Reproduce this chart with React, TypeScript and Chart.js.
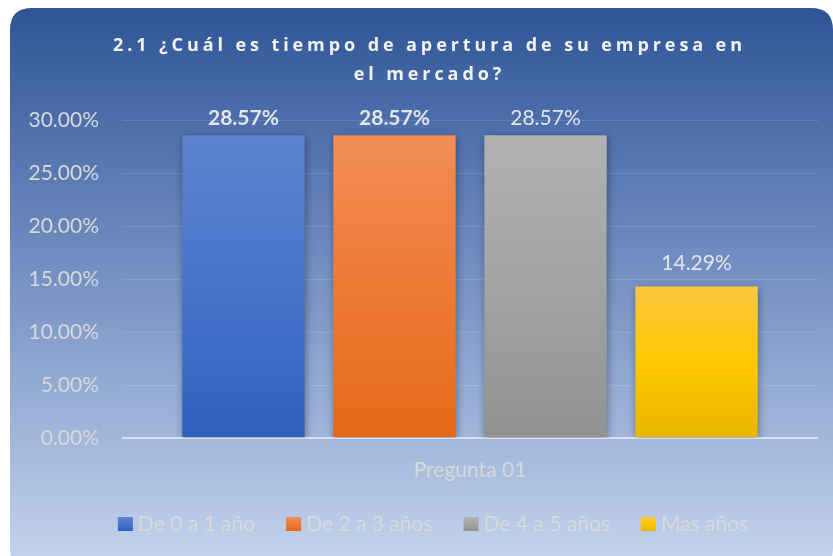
import { useEffect, useRef } from 'react';
import { Chart, registerables } from 'chart.js';

Chart.register(...registerables);

const TITLE_LINES = ['2.1 ¿Cuál es tiempo de apertura de su empresa en', 'el mercado?'];
const CATEGORIES = ['Pregunta 01'];
const SERIES_NAMES = ['De 0 a 1 año', 'De 2 a 3 años', 'De 4 a 5 años', 'Mas años'];
const SERIES_VALUES = [28.57, 28.57, 28.57, 14.29];
const LABEL_BOLD = [true, true, false, false];
const Y_MIN = 0;
const Y_MAX = 30;
const Y_STEP = 5;

const SERIES_GRADIENTS: string[][] = [
  ['#5D83CF', '#4874CA', '#2E61BD'],
  ['#F18D56', '#EE7A35', '#E56918'],
  ['#B1B1B1', '#A3A3A3', '#929292'],
  ['#FFC742', '#FFC800', '#E8B600'],
];

const FONT = 'Lato, "Open Sans", sans-serif';
const TITLE_FONT = '"Open Sans", Lato, sans-serif';
const W = 825;
const H = 548;

const cardPlugin = {
  id: 'card',
  beforeDraw(chart: any) {
    const ctx = chart.ctx;
    ctx.save();
    const x0 = 2, y0 = 0, x1 = W, y1 = H + 14, r = 22;
    ctx.beginPath();
    ctx.moveTo(x0 + r, y0);
    ctx.lineTo(x1 - r, y0);
    ctx.quadraticCurveTo(x1, y0, x1, y0 + r);
    ctx.lineTo(x1, y1 - r);
    ctx.quadraticCurveTo(x1, y1, x1 - r, y1);
    ctx.lineTo(x0 + r, y1);
    ctx.quadraticCurveTo(x0, y1, x0, y1 - r);
    ctx.lineTo(x0, y0 + r);
    ctx.quadraticCurveTo(x0, y0, x0 + r, y0);
    ctx.closePath();
    const g = ctx.createLinearGradient(0, 0, 0, H);
    g.addColorStop(0, '#2F5597');
    g.addColorStop(0.5, '#7792C4');
    g.addColorStop(1, '#C2D2EC');
    ctx.fillStyle = g;
    ctx.fill();
    ctx.restore();
  },
};

const titlePlugin = {
  id: 'spacedTitle',
  afterDraw(chart: any) {
    const ctx = chart.ctx;
    ctx.save();
    ctx.font = `bold 18px ${TITLE_FONT}`;
    ctx.fillStyle = '#F2F2F2';
    ctx.textBaseline = 'alphabetic';
    ctx.textAlign = 'left';
    (ctx as any).letterSpacing = '0px';
    const w0 = ctx.measureText(TITLE_LINES[0]).width;
    const n = [...TITLE_LINES[0]].length;
    const spacing = Math.max(0, (629 - w0) / (n - 1));
    const cx = 427.5 - 8;
    const baselines = [43, 72];
    TITLE_LINES.forEach((line, i) => {
      (ctx as any).letterSpacing = '0px';
      const base = ctx.measureText(line).width;
      const len = [...line].length;
      const total = base + spacing * (len - 1);
      (ctx as any).letterSpacing = `${spacing}px`;
      ctx.fillText(line, cx - total / 2, baselines[i]);
    });
    ctx.restore();
  },
};

const shadowPlugin = {
  id: 'barShadow',
  beforeDatasetsDraw(chart: any) {
    const ctx = chart.ctx;
    ctx.save();
    ctx.shadowColor = 'rgba(0,0,0,0.35)';
    ctx.shadowBlur = 8;
    ctx.shadowOffsetX = 1;
    ctx.shadowOffsetY = 2;
  },
  afterDatasetsDraw(chart: any) {
    const ctx = chart.ctx;
    ctx.restore();
    ctx.save();
    ctx.textAlign = 'center';
    ctx.textBaseline = 'alphabetic';
    ctx.fillStyle = '#E3E6EC';
    chart.data.datasets.forEach((ds: any, i: number) => {
      const meta = chart.getDatasetMeta(i);
      meta.data.forEach((bar: any, j: number) => {
        const v = ds.data[j];
        ctx.font = `${LABEL_BOLD[i] ? 'bold ' : ''}21px ${FONT}`;
        const yb = Math.max(bar.y - 17, chart.chartArea.top + 5);
        ctx.fillText(v.toFixed(2) + '%', bar.x, yb);
      });
    });
    ctx.restore();
  },
};

const legendPlugin = {
  id: 'customLegend',
  afterDraw(chart: any) {
    const ctx = chart.ctx;
    ctx.save();
    ctx.font = `21px ${FONT}`;
    const box = 15, gap = 5, itemGap = 31;
    const widths = SERIES_NAMES.map((s) => ctx.measureText(s).width);
    const total = widths.reduce((a, w) => a + box + gap + w, 0) + itemGap * (SERIES_NAMES.length - 1);
    let x = 425 - total / 2;
    const baseline = 523;
    SERIES_NAMES.forEach((name, i) => {
      const g = ctx.createLinearGradient(0, 509, 0, 523);
      const stops = SERIES_GRADIENTS[i];
      g.addColorStop(0, stops[0]);
      g.addColorStop(0.5, stops[1]);
      g.addColorStop(1, stops[2]);
      ctx.fillStyle = g;
      ctx.fillRect(x, 509, box, 14);
      x += box + gap;
      ctx.fillStyle = '#D9D9D9';
      ctx.textBaseline = 'alphabetic';
      ctx.textAlign = 'left';
      ctx.fillText(name, x, baseline);
      x += widths[i] + itemGap;
    });
    ctx.restore();
  },
};

export default function App() {
  const ref = useRef<HTMLCanvasElement>(null);
  useEffect(() => {
    if (!ref.current) return;
    const chart = new Chart(ref.current, {
      type: 'bar',
      data: {
        labels: CATEGORIES,
        datasets: SERIES_NAMES.map((name, i) => ({
          label: name,
          data: [SERIES_VALUES[i]],
          backgroundColor: (c: any) => {
            const ch = c.chart;
            const stops = SERIES_GRADIENTS[i];
            if (!ch.chartArea || !ch.scales.y) return stops[1];
            const top = ch.scales.y.getPixelForValue(c.raw ?? SERIES_VALUES[i]);
            const bottom = ch.scales.y.getPixelForValue(0);
            const g = ch.ctx.createLinearGradient(0, top, 0, bottom);
            g.addColorStop(0, stops[0]);
            g.addColorStop(0.5, stops[1]);
            g.addColorStop(1, stops[2]);
            return g;
          },
          borderWidth: 0,
          barPercentage: 0.81,
          categoryPercentage: 0.868,
        })),
      },
      options: {
        responsive: false,
        animation: false,
        devicePixelRatio: 1,
        layout: { padding: { top: 112, left: 0, right: 15, bottom: 0 } },
        plugins: {
          legend: { display: false },
          title: { display: false },
          tooltip: { enabled: false },
        },
        scales: {
          x: {
            grid: { display: false, drawTicks: false },
            border: { display: false },
            ticks: {
              color: '#D9D9D9',
              font: { family: FONT, size: 21 },
              padding: 20,
            },
            afterFit: (s: any) => { s.height = 118; },
          },
          y: {
            min: Y_MIN,
            max: Y_MAX,
            border: { display: false },
            grid: {
              drawTicks: false,
              color: (c: any) => (c.tick && c.tick.value === 0 ? 'rgba(225,230,240,0.9)' : 'rgba(255,255,255,0.13)'),
              lineWidth: (c: any) => (c.tick && c.tick.value === 0 ? 2 : 1),
            },
            ticks: {
              stepSize: Y_STEP,
              color: '#D9D9D9',
              font: { family: FONT, size: 21 },
              padding: 23,
              callback: (v: any) => Number(v).toFixed(2) + '%',
            },
            afterFit: (s: any) => { s.width = 114; },
          },
        },
      },
      plugins: [cardPlugin, shadowPlugin, titlePlugin, legendPlugin],
    });
    return () => chart.destroy();
  }, []);
  return (
    <div style={{ position: 'fixed', left: 8, top: 8, width: W, height: H }}>
      <canvas ref={ref} width={W} height={H} style={{ display: 'block' }} />
    </div>
  );
}
